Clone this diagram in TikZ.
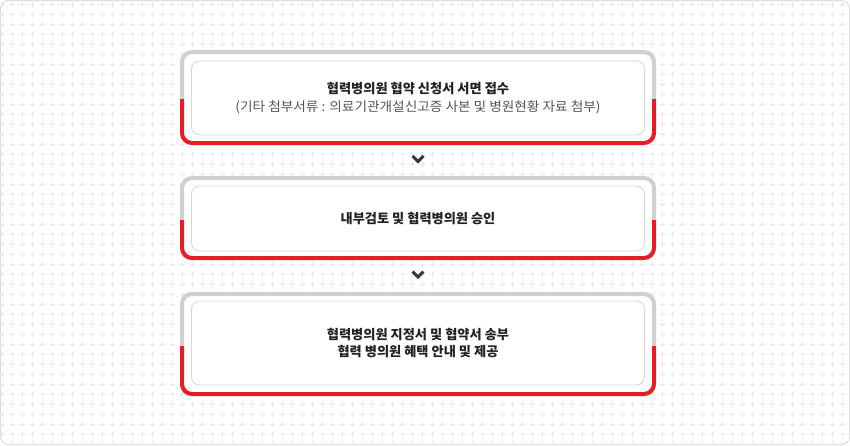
\documentclass[tikz,border=0pt]{standalone}
\usepackage{fontspec}
\setmainfont{Noto Sans CJK KR}
\usetikzlibrary{calc}
\definecolor{frameGray}{HTML}{D0D0D0}
\definecolor{frameRed}{HTML}{DF2127}
\definecolor{innerGray}{HTML}{D9D5D5}
\definecolor{plusGray}{HTML}{E8E8E8}
\definecolor{outerGray}{HTML}{DCDCDC}
\definecolor{txtDark}{HTML}{222222}
\definecolor{txtMid}{HTML}{555555}
\tikzset{
  frame/.style={draw=frameGray, line width=4pt, fill=white, rounded corners=10pt,
    minimum width=472pt, outer sep=0pt, inner sep=0pt},
  inbox/.style={draw=innerGray, line width=0.8pt, fill=white, rounded corners=8pt,
    minimum width=453pt, outer sep=0pt, inner sep=0pt, align=center,
    font=\fontsize{13.2}{17.5}\selectfont, text=txtDark},
  redline/.style={draw=frameRed, line width=4pt, rounded corners=10pt},
  chev/.style={draw=txtDark!90, line width=3pt, line cap=butt, line join=miter},
  plusmark/.style={draw=plusGray, line width=0.8pt},
}
\newcommand{\subline}[1]{{\fontsize{13}{17.5}\selectfont\addfontfeature{FakeStretch=1.05}\color{txtMid}#1}}
\begin{document}
\begin{tikzpicture}[x=1pt,y=-1pt]
\useasboundingbox (0,0) rectangle (850,445);
% background
\begin{scope}
  \clip[rounded corners=8pt] (0.5,0.5) rectangle (849.5,444.5);
  \fill[white] (0,0) rectangle (850,445);
  \draw[plusmark] foreach \x in {2,12,...,852} { foreach \y in {4,14,...,444} {
     (\x-2.5,\y) -- (\x+2.5,\y) (\x,\y-2.5) -- (\x,\y+2.5) } };
\end{scope}
\draw[outerGray, line width=1pt, rounded corners=8pt] (0.5,0.5) rectangle (849.5,444.5);

% frames
\node[frame, minimum height=91pt] (o1) at (418,97.5) {};
\node[frame, minimum height=80pt] (o2) at (418,218) {};
\node[frame, minimum height=100pt] (o3) at (418,344) {};
\foreach \f/\cy in {o1/99.5, o2/220, o3/346} {
  \begin{scope}
    \clip (150,\cy) rectangle (700,420);
    \draw[redline] (\f.north west) rectangle (\f.south east);
  \end{scope}
}

% inner boxes
\node[inbox, minimum height=74pt] (b1) at (418,98) {\textbf{협력병의원 협약 신청서 서면 접수}\\\subline{(기타 첨부서류 : 의료기관개설신고증 사본 및 병원현황 자료 첨부)}};
\node[inbox, minimum height=65pt] (b2) at (418,218.5) {\textbf{내부검토 및 협력병의원 승인}};
\node[inbox, minimum height=84pt] (b3) at (418,343) {\textbf{협력병의원 지정서 및 협약서 송부}\\\textbf{협력 병의원 혜택 안내 및 제공}};

% chevrons
\coordinate (k1) at ($(o1.south)!0.5!(o2.north)+(0,-1.5)$);
\coordinate (k2) at ($(o2.south)!0.5!(o3.north)+(0,-1.5)$);
\foreach \k in {k1,k2} {
  \draw[chev] ($(\k)+(-5.5,-3)$) -- ($(\k)+(0,2.5)$) -- ($(\k)+(5.5,-3)$);
}
\end{tikzpicture}
\end{document}
